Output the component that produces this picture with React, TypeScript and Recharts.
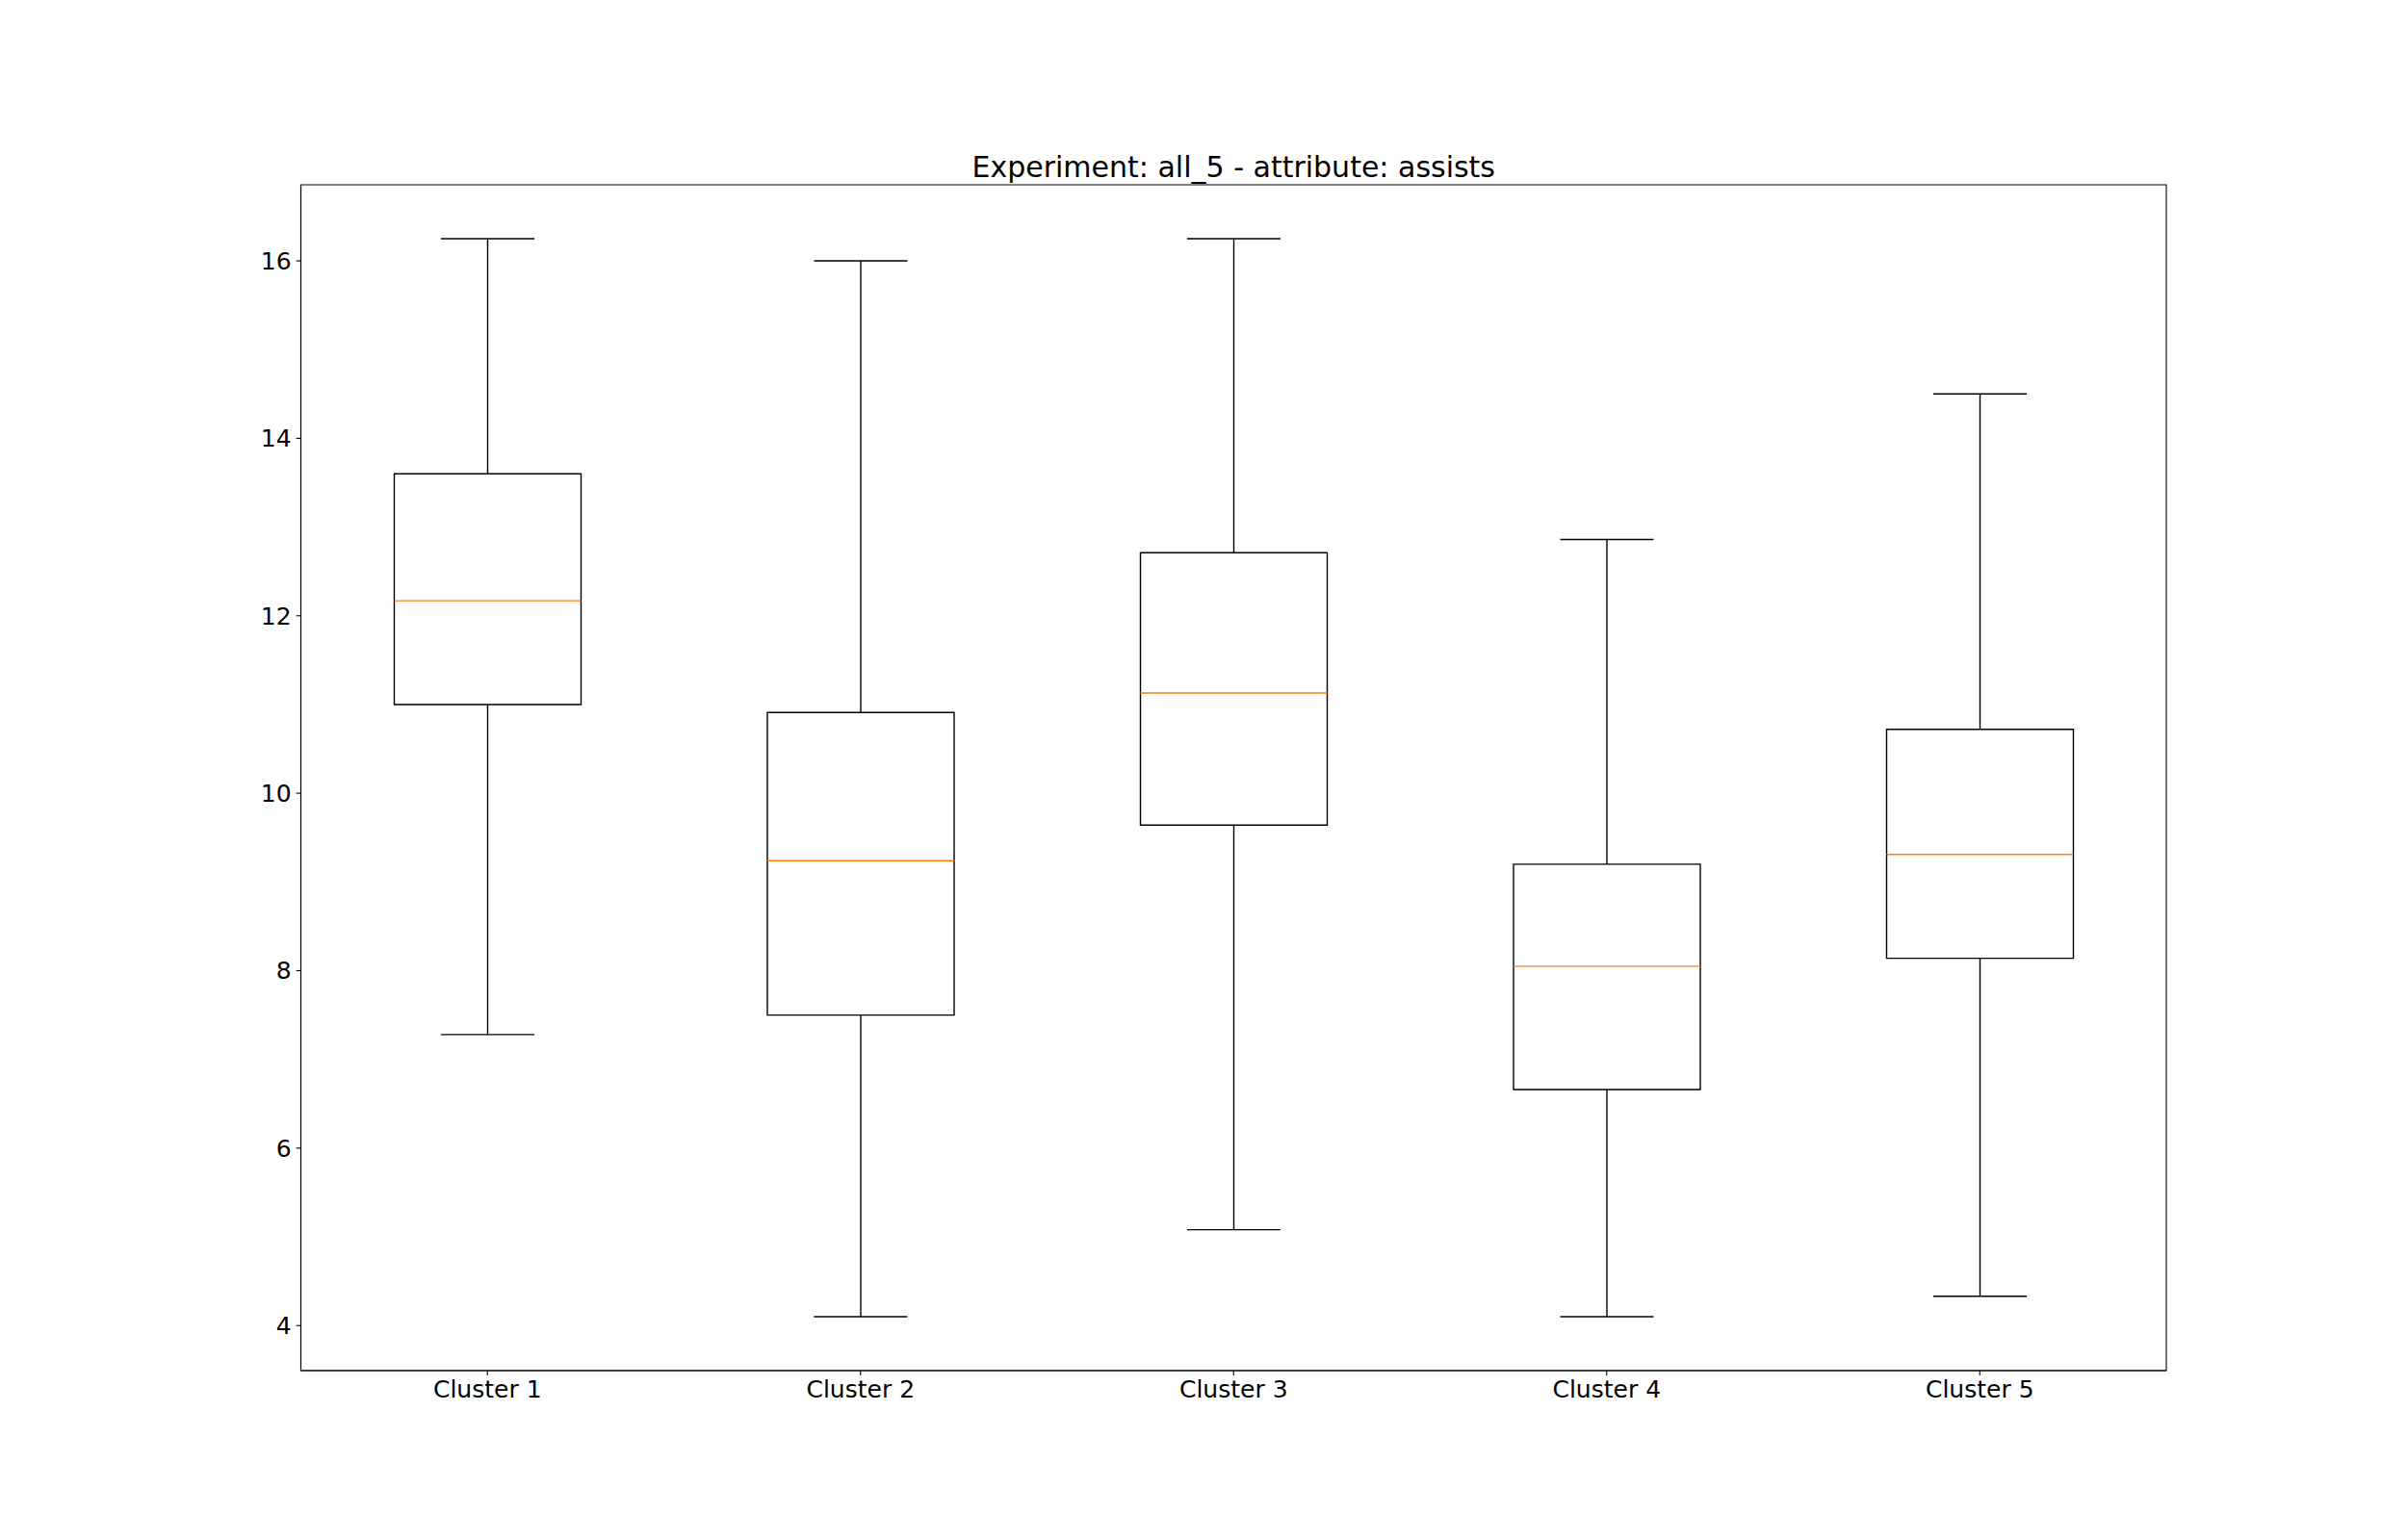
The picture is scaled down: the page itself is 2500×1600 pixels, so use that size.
import React from "react"
import { Bar, ComposedChart, ReferenceArea, XAxis, YAxis } from "recharts"

// box plot stats
const categories = ["Cluster 1", "Cluster 2", "Cluster 3", "Cluster 4", "Cluster 5"]
const whiskerLow = [7.28, 4.1, 5.08, 4.1, 4.33]
const q1 = [11.0, 7.5, 9.64, 6.66, 8.14]
const median = [12.17, 9.24, 11.13, 8.05, 9.31]
const q3 = [13.6, 10.91, 12.71, 9.2, 10.72]
const whiskerHigh = [16.25, 16.0, 16.25, 12.86, 14.5]
const yTicks = [4, 6, 8, 10, 12, 14, 16]

const title = "Experiment: all_5 - attribute: assists"

const data = categories.map((name, i) => ({
    name,
    whisker: [whiskerLow[i], whiskerHigh[i]],
    box: [q1[i], q3[i]],
    med: [median[i], median[i]],
}))

// matplotlib style autoscale: 5% margin around the data
const lo = Math.min(...whiskerLow)
const hi = Math.max(...whiskerHigh)
const pad = (hi - lo) * 0.05
const yDomain = [lo - pad, hi + pad]

const FONT = "'DejaVu Sans', sans-serif"
const tickStyle = { fill: "#000", fontSize: 25, fontFamily: FONT }

const WhiskerShape = (props: any) => {
    const { x, y, width, height } = props
    const top = Math.min(y, y + height)
    const bottom = Math.max(y, y + height)
    const cx = x + width / 2
    const cap = width / 4
    return (
        <g stroke="#000" strokeWidth={1.4} fill="none">
            <line x1={cx} x2={cx} y1={top} y2={bottom} />
            <line x1={cx - cap} x2={cx + cap} y1={top} y2={top} />
            <line x1={cx - cap} x2={cx + cap} y1={bottom} y2={bottom} />
        </g>
    )
}

const MedianShape = (props: any) => {
    const { x, y, width } = props
    return <line x1={x} x2={x + width} y1={y} y2={y} stroke="#ff7f0e" strokeWidth={1.4} />
}

export default function App() {
    return (
        <div style={{ position: "absolute", left: 0, top: 0, width: 2500, height: 1600, background: "#fff" }}>
            <ComposedChart
                width={2500}
                height={1600}
                data={data}
                margin={{ top: 192, right: 250, bottom: 116, left: 0 }}
                barSize={194}
                barGap={-194}
            >
                <XAxis
                    dataKey="name"
                    height={60}
                    tick={tickStyle}
                    tickSize={4.9}
                    tickMargin={5}
                    axisLine={{ stroke: "#000", strokeWidth: 1.1 }}
                    tickLine={{ stroke: "#000", strokeWidth: 1.1 }}
                />
                <YAxis
                    type="number"
                    domain={yDomain}
                    ticks={yTicks}
                    allowDataOverflow
                    width={312.5}
                    tick={tickStyle}
                    tickSize={4.9}
                    tickMargin={5}
                    axisLine={{ stroke: "#000", strokeWidth: 1.1 }}
                    tickLine={{ stroke: "#000", strokeWidth: 1.1 }}
                />
                {/* axes frame (matplotlib spines) */}
                <ReferenceArea
                    y1={yDomain[0]}
                    y2={yDomain[1]}
                    fill="none"
                    fillOpacity={0}
                    stroke="#000"
                    strokeWidth={1.1}
                    strokeOpacity={1}
                    ifOverflow="visible"
                />
                <Bar dataKey="whisker" shape={<WhiskerShape />} isAnimationActive={false} />
                <Bar dataKey="box" fill="#fff" stroke="#000" strokeWidth={1.4} isAnimationActive={false} />
                <Bar dataKey="med" shape={<MedianShape />} isAnimationActive={false} />
            </ComposedChart>
            <svg
                width={2500}
                height={200}
                style={{ position: "absolute", left: 0, top: 0, pointerEvents: "none" }}
            >
                <text x={1281.25} y={184} textAnchor="middle" fontSize={30} fontFamily={FONT} fill="#000">
                    {title}
                </text>
            </svg>
        </div>
    )
}
